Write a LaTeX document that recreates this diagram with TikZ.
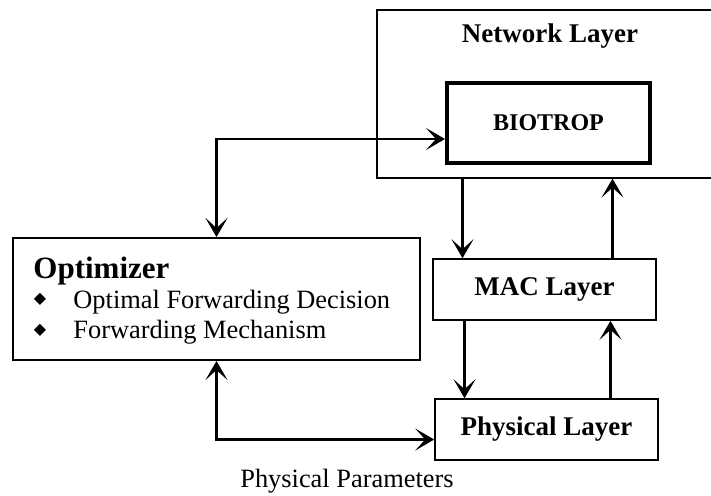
\documentclass[tikz,border=0pt]{standalone}
\usepackage{fontspec}
\setmainfont{Liberation Serif}
\newfontfamily\symbfont{DejaVu Sans}
\usetikzlibrary{arrows.meta}

\begin{document}
\begin{tikzpicture}[x=0.5pt,y=-0.5pt,
    >={Stealth[length=9.5pt,width=11pt,inset=5pt]},
    couche/.style={draw,line width=0.8pt,minimum width=111.5pt,minimum height=30.5pt,
      font=\fontsize{13.5}{16}\selectfont\bfseries},
    texte/.style={inner sep=0pt,font=\fontsize{13.2}{16}\selectfont},
    fleche/.style={line width=1.1pt}]

% Cadre de l'image
\clip (0,0) rectangle (711,495);

% Couche réseau (bord droit hors de l'image)
\node[draw,line width=0.6pt,minimum width=181.5pt,minimum height=84pt] (reseau) at (558.5,94) {};
\node[texte,anchor=base,font=\fontsize{13.5}{16}\selectfont\bfseries] (titreReseau) at (550,42) {Network Layer};
\node[draw,line width=2pt,minimum width=101.5pt,minimum height=40pt,
  font=\fontsize{12}{14}\selectfont\bfseries] (bio) at (548.5,123) {BIOTROP};

% Couches MAC et physique
\node[couche] (mac) at (544.5,289.5) {MAC Layer};
\node[couche] (phy) at (546.5,429.5) {Physical Layer};

% Optimiseur
\node[draw,line width=1pt,minimum width=203.5pt,minimum height=61pt] (opt) at (216.5,299) {};
\node[texte,anchor=base west,font=\fontsize{15.5}{18}\selectfont\bfseries] (titreOpt) at (33,278) {Optimizer};
\node[texte] (puceA) at (40,299) {\symbfont\fontsize{8}{8}\selectfont ◆};
\node[texte,anchor=base west] (decision) at (73,308) {Optimal Forwarding Decision};
\node[texte] (puceB) at (40,330) {\symbfont\fontsize{8}{8}\selectfont ◆};
\node[texte,anchor=base west] (mecanisme) at (73,338) {Forwarding Mechanism};

% Paramètres physiques
\node[texte,anchor=base] (param) at (347,487) {Physical Parameters};

% Flèches entre l'optimiseur et les couches
\draw[fleche,<->] ([yshift=-8pt]bio.west) -| (opt.north);
\draw[fleche,<->] (opt.south) |- ([yshift=-5pt]phy.west);

% Flèches entre les couches
\draw[fleche,->] ([xshift=-41pt]mac.north |- reseau.south) -- ([xshift=-41pt]mac.north);
\draw[fleche,->] ([xshift=34pt]mac.north) -- ([xshift=34pt]mac.north |- reseau.south);
\draw[fleche,->] ([xshift=-40pt]mac.south) -- ([xshift=-40pt]mac.south |- phy.north);
\draw[fleche,->] ([xshift=33pt]mac.south |- phy.north) -- ([xshift=33pt]mac.south);

\end{tikzpicture}
\end{document}
